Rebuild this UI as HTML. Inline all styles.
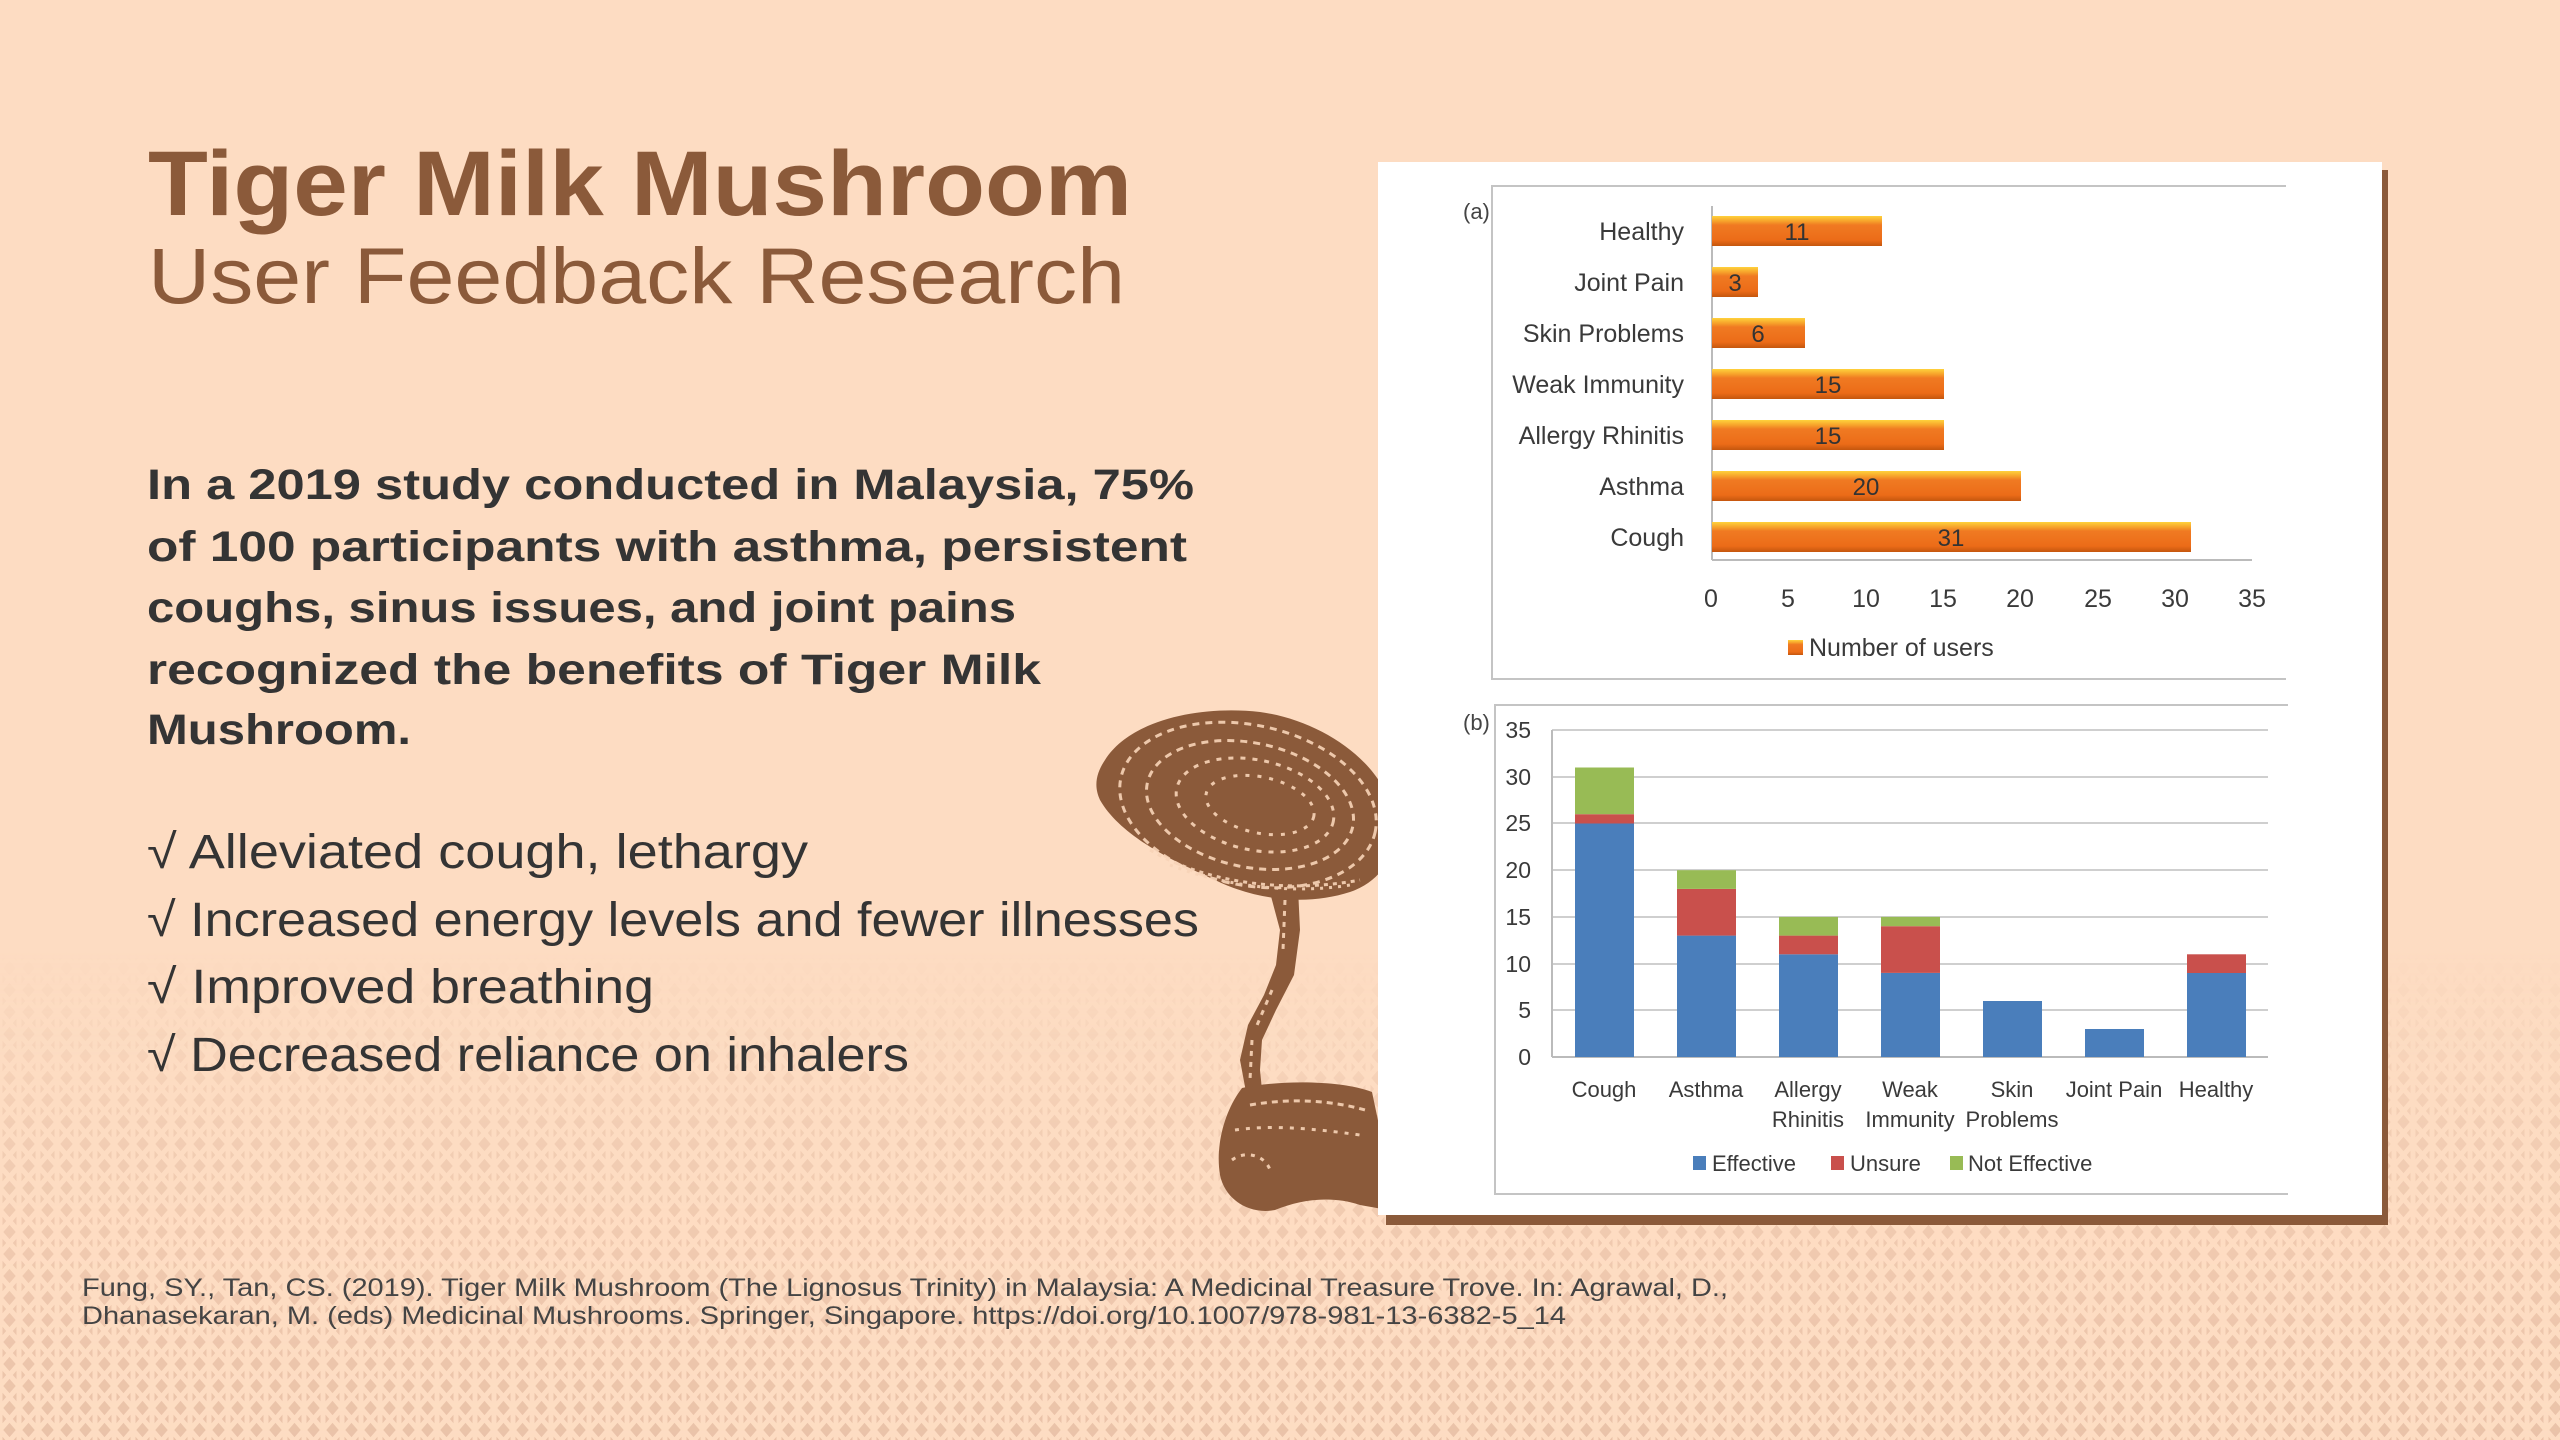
<!DOCTYPE html>
<html><head><meta charset="utf-8"><style>html,body{margin:0;padding:0;background:#fddcc2}svg{display:block}</style></head>
<body>
<svg width="2560" height="1440" viewBox="0 0 2560 1440" xmlns="http://www.w3.org/2000/svg" font-family="Liberation Sans, sans-serif">
<defs>
<pattern id="tri" width="38" height="44" patternUnits="userSpaceOnUse">
<rect width="38" height="44" fill="#eac2a8"/>
<path d="M0 0L19 22L0 44M19 0L38 22L19 44M0 0V44M19 0V44M38 0V44M0 22L19 0M0 22L19 44M19 22L38 0M19 22L38 44" stroke="#fddcc2" stroke-width="5" fill="none"/>
</pattern>
<linearGradient id="fade" x1="0" y1="0" x2="0" y2="1">
<stop offset="0" stop-color="#fff" stop-opacity="0"/>
<stop offset="0.35" stop-color="#fff" stop-opacity="0.55"/>
<stop offset="1" stop-color="#fff" stop-opacity="1"/>
</linearGradient>
<mask id="m"><rect x="0" y="950" width="2560" height="490" fill="url(#fade)"/></mask>
<linearGradient id="org" x1="0" y1="0" x2="0" y2="1">
<stop offset="0" stop-color="#ffd23c"/>
<stop offset="0.18" stop-color="#f6a02a"/>
<stop offset="0.3" stop-color="#f07a22"/>
<stop offset="0.8" stop-color="#ec6c18"/>
<stop offset="1" stop-color="#c4560e"/>
</linearGradient>
</defs>
<rect width="2560" height="1440" fill="#fddcc2"/>
<rect x="0" y="950" width="2560" height="490" fill="url(#tri)" mask="url(#m)"/>

<text x="148" y="215" font-size="92" font-weight="bold" fill="#8b5a3a" textLength="984" lengthAdjust="spacingAndGlyphs">Tiger Milk Mushroom</text>
<text x="148" y="303" font-size="79" fill="#8b5a3a" textLength="977" lengthAdjust="spacingAndGlyphs">User Feedback Research</text>

<g font-size="43" font-weight="bold" fill="#343434">
<text x="147" y="499" textLength="1047" lengthAdjust="spacingAndGlyphs">In a 2019 study conducted in Malaysia, 75%</text>
<text x="147" y="561" textLength="1040" lengthAdjust="spacingAndGlyphs">of 100 participants with asthma, persistent</text>
<text x="147" y="622" textLength="869" lengthAdjust="spacingAndGlyphs">coughs, sinus issues, and joint pains</text>
<text x="147" y="684" textLength="894" lengthAdjust="spacingAndGlyphs">recognized the benefits of Tiger Milk</text>
<text x="147" y="744" textLength="264" lengthAdjust="spacingAndGlyphs">Mushroom.</text>
</g>
<g font-size="48" fill="#343434">
<text x="147" y="868" textLength="661" lengthAdjust="spacingAndGlyphs">√ Alleviated cough, lethargy</text>
<text x="147" y="936" textLength="1052" lengthAdjust="spacingAndGlyphs">√ Increased energy levels and fewer illnesses</text>
<text x="147" y="1003" textLength="507" lengthAdjust="spacingAndGlyphs">√ Improved breathing</text>
<text x="147" y="1071" textLength="762" lengthAdjust="spacingAndGlyphs">√ Decreased reliance on inhalers</text>
</g>
<g font-size="25" fill="#444">
<text x="82" y="1296" textLength="1646" lengthAdjust="spacingAndGlyphs">Fung, SY., Tan, CS. (2019). Tiger Milk Mushroom (The Lignosus Trinity) in Malaysia: A Medicinal Treasure Trove. In: Agrawal, D.,</text>
<text x="82" y="1324" textLength="1484" lengthAdjust="spacingAndGlyphs">Dhanasekaran, M. (eds) Medicinal Mushrooms. Springer, Singapore. https://doi.org/10.1007/978-981-13-6382-5_14</text>
</g>

<!-- Mushroom -->
<g fill="#8b5a3a">
<path d="M1105 760 C1130 720 1200 705 1260 712 C1320 720 1380 760 1392 810 C1400 850 1385 880 1350 892 C1310 905 1260 902 1215 880 C1170 860 1120 835 1100 800 C1093 785 1097 772 1105 760Z"/>
<path d="M1268 885 L1298 888 L1300 930 L1294 975 L1276 1010 L1262 1040 L1260 1070 L1262 1090 L1246 1092 L1240 1060 L1248 1025 L1264 995 L1276 965 L1280 930 Z"/>
<path d="M1242 1088 C1280 1080 1340 1080 1372 1092 L1380 1130 L1378 1170 L1388 1210 L1360 1205 C1330 1195 1300 1200 1275 1210 C1250 1215 1225 1200 1220 1175 C1215 1145 1225 1110 1242 1088Z"/>
</g>
<g fill="none" stroke="#f8d4b8" stroke-width="3" stroke-dasharray="7 6" opacity="0.9">
<ellipse cx="1248" cy="805" rx="130" ry="80" transform="rotate(12 1248 805)"/>
<ellipse cx="1250" cy="805" rx="105" ry="62" transform="rotate(12 1250 805)"/>
<ellipse cx="1255" cy="805" rx="80" ry="45" transform="rotate(12 1255 805)" stroke-dasharray="5 7"/>
<ellipse cx="1260" cy="805" rx="55" ry="28" transform="rotate(12 1260 805)" stroke-dasharray="4 8"/>
<path d="M1150 850 C1200 880 1280 895 1360 880" stroke-dasharray="4 5"/>
<path d="M1170 865 C1220 885 1290 895 1350 885" stroke-dasharray="3 6"/>
<path d="M1285 900 L1283 950 M1272 990 L1255 1030 M1252 1040 L1250 1080" stroke-dasharray="5 6"/>
<path d="M1250 1105 C1290 1098 1330 1100 1365 1110" stroke-dasharray="6 5"/>
<path d="M1235 1130 C1270 1125 1310 1128 1360 1135" stroke-dasharray="4 7"/>
<path d="M1232 1160 C1245 1150 1265 1155 1270 1170" stroke-dasharray="4 6"/>
</g>

<rect x="1386" y="170" width="1002" height="1055" fill="#8b5a3a"/>
<rect x="1378" y="162" width="1004" height="1053" fill="#fff"/>

<path d="M2286 186 H1492 V679 H2286" fill="none" stroke="#c4c4c4" stroke-width="2"/>
<text x="1463" y="219" font-size="22" fill="#444">(a)</text>
<line x1="1712" y1="206" x2="1712" y2="560" stroke="#bbb" stroke-width="2"/>
<line x1="1712" y1="560" x2="2252" y2="560" stroke="#bbb" stroke-width="2"/>
<g font-size="25" fill="#3a3a3a" text-anchor="end">
<text x="1684" y="240">Healthy</text>
<text x="1684" y="291">Joint Pain</text>
<text x="1684" y="342">Skin Problems</text>
<text x="1684" y="393">Weak Immunity</text>
<text x="1684" y="444">Allergy Rhinitis</text>
<text x="1684" y="495">Asthma</text>
<text x="1684" y="546">Cough</text>
</g>
<g fill="url(#org)">
<rect x="1712" y="216" width="170" height="30"/>
<rect x="1712" y="267" width="46" height="30"/>
<rect x="1712" y="318" width="93" height="30"/>
<rect x="1712" y="369" width="232" height="30"/>
<rect x="1712" y="420" width="232" height="30"/>
<rect x="1712" y="471" width="309" height="30"/>
<rect x="1712" y="522" width="479" height="30"/>
</g>
<g font-size="24" fill="#333" text-anchor="middle">
<text x="1797" y="240">11</text>
<text x="1735" y="291">3</text>
<text x="1758" y="342">6</text>
<text x="1828" y="393">15</text>
<text x="1828" y="444">15</text>
<text x="1866" y="495">20</text>
<text x="1951" y="546">31</text>
</g>
<g font-size="25" fill="#3a3a3a" text-anchor="middle">
<text x="1711" y="607">0</text><text x="1788" y="607">5</text><text x="1866" y="607">10</text><text x="1943" y="607">15</text><text x="2020" y="607">20</text><text x="2098" y="607">25</text><text x="2175" y="607">30</text><text x="2252" y="607">35</text>
</g>
<rect x="1788" y="640" width="15" height="15" fill="url(#org)"/>
<text x="1809" y="656" font-size="25" fill="#3a3a3a">Number of users</text>

<path d="M2288 705 H1495 V1194 H2288" fill="none" stroke="#c4c4c4" stroke-width="2"/>
<text x="1463" y="730" font-size="22" fill="#444">(b)</text>
<g stroke="#cfcfcf" stroke-width="2">
<line x1="1552" y1="730" x2="2268" y2="730"/><line x1="1552" y1="777" x2="2268" y2="777"/><line x1="1552" y1="823" x2="2268" y2="823"/><line x1="1552" y1="870" x2="2268" y2="870"/><line x1="1552" y1="917" x2="2268" y2="917"/><line x1="1552" y1="964" x2="2268" y2="964"/><line x1="1552" y1="1010" x2="2268" y2="1010"/>
</g>
<line x1="1552" y1="730" x2="1552" y2="1057" stroke="#bbb" stroke-width="2"/>
<line x1="1552" y1="1057" x2="2268" y2="1057" stroke="#bbb" stroke-width="2"/>
<g font-size="23" fill="#3a3a3a" text-anchor="end">
<text x="1531" y="738">35</text><text x="1531" y="785">30</text><text x="1531" y="831">25</text><text x="1531" y="878">20</text><text x="1531" y="925">15</text><text x="1531" y="972">10</text><text x="1531" y="1018">5</text><text x="1531" y="1065">0</text>
</g>
<g>
<rect x="1575" y="823.5" width="59" height="233.5" fill="#4a7ebb"/><rect x="1575" y="814.2" width="59" height="9.3" fill="#c9504c"/><rect x="1575" y="767.5" width="59" height="46.7" fill="#98bb55"/>
<rect x="1677" y="935.6" width="59" height="121.4" fill="#4a7ebb"/><rect x="1677" y="888.9" width="59" height="46.7" fill="#c9504c"/><rect x="1677" y="870.2" width="59" height="18.7" fill="#98bb55"/>
<rect x="1779" y="954.3" width="59" height="102.7" fill="#4a7ebb"/><rect x="1779" y="935.6" width="59" height="18.7" fill="#c9504c"/><rect x="1779" y="916.9" width="59" height="18.7" fill="#98bb55"/>
<rect x="1881" y="972.9" width="59" height="84.1" fill="#4a7ebb"/><rect x="1881" y="926.2" width="59" height="46.7" fill="#c9504c"/><rect x="1881" y="916.9" width="59" height="9.3" fill="#98bb55"/>
<rect x="1983" y="1001" width="59" height="56" fill="#4a7ebb"/>
<rect x="2085" y="1029" width="59" height="28" fill="#4a7ebb"/>
<rect x="2187" y="972.9" width="59" height="84.1" fill="#4a7ebb"/><rect x="2187" y="954.3" width="59" height="18.7" fill="#c9504c"/>
</g>
<g font-size="22" fill="#3a3a3a" text-anchor="middle">
<text x="1604" y="1097">Cough</text>
<text x="1706" y="1097">Asthma</text>
<text x="1808" y="1097">Allergy</text><text x="1808" y="1127">Rhinitis</text>
<text x="1910" y="1097">Weak</text><text x="1910" y="1127">Immunity</text>
<text x="2012" y="1097">Skin</text><text x="2012" y="1127">Problems</text>
<text x="2114" y="1097">Joint Pain</text>
<text x="2216" y="1097">Healthy</text>
</g>
<rect x="1693" y="1156" width="13" height="14" fill="#4a7ebb"/>
<text x="1712" y="1171" font-size="22" fill="#3a3a3a">Effective</text>
<rect x="1831" y="1156" width="13" height="14" fill="#c9504c"/>
<text x="1850" y="1171" font-size="22" fill="#3a3a3a">Unsure</text>
<rect x="1950" y="1156" width="13" height="14" fill="#98bb55"/>
<text x="1968" y="1171" font-size="22" fill="#3a3a3a">Not Effective</text>
</svg>
</body></html>
